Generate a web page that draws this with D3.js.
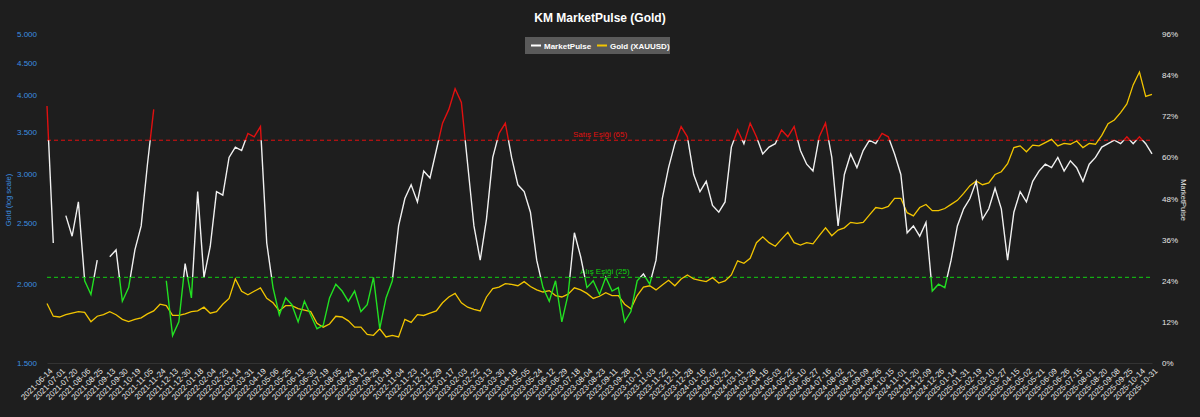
<!DOCTYPE html>
<html><head><meta charset="utf-8">
<script src="https://cdn.jsdelivr.net/npm/d3@7"></script>
<style>body{margin:0;background:#1e1e1e;}svg{display:block;font-family:"Liberation Sans",Arial,sans-serif;}</style>
</head><body><svg id="c" width="1200" height="417"></svg>
<script>
const tickLabels=["2021-06-14","2021-07-01","2021-07-20","2021-08-06","2021-08-25","2021-09-13","2021-09-30","2021-10-19","2021-11-05","2021-11-24","2021-12-13","2021-12-30","2022-01-18","2022-02-04","2022-02-23","2022-03-14","2022-03-31","2022-04-19","2022-05-06","2022-05-25","2022-06-13","2022-06-30","2022-07-19","2022-08-05","2022-08-24","2022-09-12","2022-09-29","2022-10-18","2022-11-04","2022-11-23","2022-12-12","2022-12-29","2023-01-17","2023-02-03","2023-02-22","2023-03-13","2023-03-30","2023-04-18","2023-05-05","2023-05-24","2023-06-12","2023-06-29","2023-07-18","2023-08-04","2023-08-23","2023-09-11","2023-09-28","2023-10-17","2023-11-03","2023-11-22","2023-12-11","2023-12-28","2024-01-16","2024-02-02","2024-02-21","2024-03-11","2024-03-28","2024-04-16","2024-05-03","2024-05-22","2024-06-10","2024-06-27","2024-07-16","2024-08-02","2024-08-21","2024-09-09","2024-09-26","2024-10-15","2024-11-01","2024-11-20","2024-12-09","2024-12-26","2025-01-14","2025-01-31","2025-02-19","2025-03-10","2025-03-27","2025-04-15","2025-05-02","2025-05-21","2025-06-09","2025-06-26","2025-07-15","2025-08-01","2025-08-20","2025-09-08","2025-09-25","2025-10-14","2025-10-31"];
const marketPulse=[75,35,null,43,37,47,24,20,30,null,31,33,18,22,33,40,58,74,null,24,8,12,29,19,50,25,34,50,49,60,63,62,67,66,69,35,22,14,19,17,12,18,14,10,11,19,23,21,18,21,15,17,25,10,19,24,40,48,52,47,56,54,62,70,74,80,76,58,40,30,42,60,67,70,60,52,50,44,30,22,18,24,12,20,38,31,22,24,20,25,21,22,12,15,24,26,23,30,48,57,64,69,66,55,50,53,46,44,47,63,68,64,70,66,61,63,64,68,66,69,62,58,56,66,70,60,40,55,61,57,62,65,64,67,66,61,55,38,40,37,41,21,23,22,30,40,45,48,53,42,45,51,45,30,44,50,47,53,56,58,57,60,56,59,57,53,58,60,63,64,65,64,66,64,66,64,61];
const gold=[1865,1780,1775,1790,1800,1810,1805,1745,1780,1790,1810,1790,1760,1745,1760,1770,1795,1815,1860,1850,1785,1785,1795,1810,1815,1840,1800,1810,1860,1900,2040,1950,1925,1950,1975,1900,1870,1815,1850,1850,1830,1820,1810,1735,1710,1730,1780,1775,1750,1710,1710,1665,1660,1700,1650,1660,1650,1760,1740,1790,1785,1800,1815,1870,1910,1935,1870,1840,1825,1815,1910,1970,1980,2005,2000,1990,2020,1985,1960,1945,1955,1920,1910,1930,1975,1960,1935,1900,1915,1940,1920,1920,1860,1830,1920,1980,1990,1960,1995,2030,1990,2040,2070,2040,2030,2020,2050,2010,2025,2070,2180,2160,2200,2330,2380,2330,2300,2360,2420,2330,2310,2330,2320,2390,2460,2390,2440,2460,2510,2500,2510,2580,2650,2640,2660,2740,2740,2600,2570,2650,2680,2620,2620,2640,2680,2720,2790,2870,2920,2880,2900,2990,3020,3110,3300,3320,3250,3330,3320,3360,3400,3320,3350,3340,3380,3300,3350,3340,3450,3600,3650,3750,3870,4150,4350,3980,4010];
const goldTicks=[1500,2000,2500,3000,3500,4000,4500,5000];
const pctTicks=[0,12,24,36,48,60,72,84,96];
const sellLevel=65, buyLevel=25;

const svg=d3.select("#c");
const L=47,R=1152,T=34,B=363;
const x=d3.scaleLinear().domain([0,gold.length-1]).range([L,R]);
const yG=d3.scaleLog().domain([1500,5000]).range([B,T]);
const yP=d3.scaleLinear().domain([0,96]).range([B,T]);

svg.append("text").attr("x",600).attr("y",22).attr("text-anchor","middle").attr("fill","#fff").attr("font-weight","bold").attr("font-size",12).text("KM MarketPulse (Gold)");

const gl=svg.append("g").attr("transform",`translate(${L},0)`).call(d3.axisLeft(yG).tickValues(goldTicks).tickSize(0).tickPadding(10).tickFormat(d=>d3.format(".3f")(d/1000)));
gl.select(".domain").remove();
gl.selectAll("text").attr("fill","#3d8fe0").attr("font-size",8);
svg.append("text").attr("transform","translate(11,200) rotate(-90)").attr("text-anchor","middle").attr("fill","#3d8fe0").attr("font-size",7.5).text("Gold (log scale)");
const gr=svg.append("g").attr("transform",`translate(${R},0)`).call(d3.axisRight(yP).tickValues(pctTicks).tickSize(0).tickPadding(10).tickFormat(d=>d+"%"));
gr.select(".domain").remove();
gr.selectAll("text").attr("fill","#e6e6e6").attr("font-size",8);
svg.append("text").attr("transform","translate(1181,200) rotate(90)").attr("text-anchor","middle").attr("fill","#e6e6e6").attr("font-size",7.5).text("MarketPulse");
const gb=svg.append("g").attr("transform",`translate(0,${B})`).call(d3.axisBottom(x).tickValues(tickLabels.map((d,i)=>i*2)).tickSize(0).tickPadding(6).tickFormat((d)=>tickLabels[d/2]));
gb.select(".domain").attr("stroke","#333");
gb.selectAll("text").attr("fill","#e6e6e6").attr("font-size",8).attr("text-anchor","end").attr("transform","rotate(-45)").attr("dx","-2").attr("dy","4");

svg.append("line").attr("x1",L).attr("x2",R).attr("y1",yP(sellLevel)).attr("y2",yP(sellLevel)).attr("stroke","#e01010").attr("stroke-dasharray","4,3");
svg.append("line").attr("x1",L).attr("x2",R).attr("y1",yP(buyLevel)).attr("y2",yP(buyLevel)).attr("stroke","#10d010").attr("stroke-dasharray","4,3");
svg.append("text").attr("x",600).attr("y",yP(sellLevel)-3).attr("text-anchor","middle").attr("fill","#e01010").attr("font-size",8).text("Satış Eşiği (65)");
svg.append("text").attr("x",605).attr("y",yP(buyLevel)-3).attr("text-anchor","middle").attr("fill","#10d010").attr("font-size",8).text("Alış Eşiği (25)");

svg.append("path").datum(gold).attr("fill","none").attr("stroke","#f2c500").attr("stroke-width",1.3)
 .attr("d",d3.line().x((d,i)=>x(i)).y(d=>yG(d)));

const defs=svg.append("defs");
function clip(id,y0,y1){defs.append("clipPath").attr("id",id).append("rect").attr("x",0).attr("width",1200).attr("y",y0).attr("height",y1-y0);}
clip("cTop",0,yP(sellLevel));clip("cMid",yP(sellLevel),yP(buyLevel));clip("cBot",yP(buyLevel),417);
const mpLine=d3.line().defined(d=>d!=null).x((d,i)=>x(i)).y(d=>yP(d));
[["cTop","#e01010"],["cMid","#f0f0f0"],["cBot","#22e022"]].forEach(([id,c])=>{
 svg.append("path").datum(marketPulse).attr("clip-path",`url(#${id})`).attr("fill","none").attr("stroke",c).attr("stroke-width",1.4).attr("d",mpLine);
});

const lg=svg.append("g").attr("transform","translate(525,37)");
lg.append("rect").attr("width",145).attr("height",17).attr("fill","#5a5a5a");
lg.append("line").attr("x1",6).attr("x2",16).attr("y1",8.5).attr("y2",8.5).attr("stroke","#fff").attr("stroke-width",2);
lg.append("text").attr("x",19).attr("y",11.5).attr("fill","#fff").attr("font-size",8).attr("font-weight","bold").text("MarketPulse");
lg.append("line").attr("x1",72).attr("x2",82).attr("y1",8.5).attr("y2",8.5).attr("stroke","#f2c500").attr("stroke-width",2);
lg.append("text").attr("x",85).attr("y",11.5).attr("fill","#fff").attr("font-size",8).attr("font-weight","bold").text("Gold (XAUUSD)");
</script></body></html>
